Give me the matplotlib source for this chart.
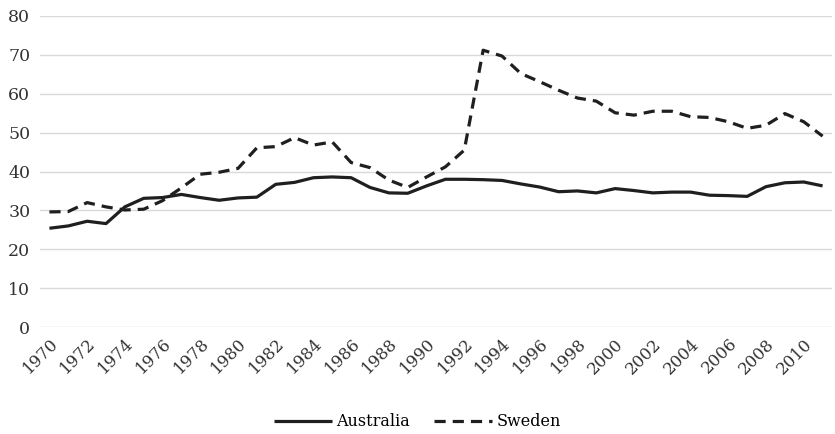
import numpy as np
import matplotlib.pyplot as plt

# Data
years = list(range(1970, 2012))
australia = [25.4, 26.0, 27.2, 26.6, 30.9, 33.1, 33.3, 34.1, 33.3, 32.6,
             33.2, 33.4, 36.7, 37.2, 38.4, 38.6, 38.4, 35.9, 34.5, 34.4,
             36.3, 38.0, 38.0, 37.9, 37.7, 36.8, 36.0, 34.8, 35.0, 34.5,
             35.6, 35.1, 34.5, 34.7, 34.7, 33.9, 33.8, 33.6, 36.1, 37.1,
             37.3, 36.3]
sweden = [29.6, 29.7, 32.0, 30.9, 30.1, 30.3, 32.5, 35.8, 39.3, 39.8,
          40.8, 46.1, 46.4, 48.7, 46.8, 47.6, 42.3, 41.0, 37.8, 35.9,
          38.6, 41.2, 45.5, 71.2, 69.7, 65.2, 63.1, 60.9, 58.9, 58.1,
          55.1, 54.5, 55.5, 55.5, 54.1, 53.9, 52.8, 51.1, 51.9, 54.9,
          52.8, 49.1]
yticks = list(range(0, 90, 10))

plt.rcParams['font.family'] = ['DejaVu Serif']
fig = plt.figure(figsize=(8.35, 4.34), dpi=100)
ax = fig.add_axes([40 / 835, 1 - 327 / 434, 792 / 835, 311 / 434])

x = np.arange(len(years))
ax.plot(x, australia, color='#1f1f1f', lw=2.3, label='Australia',
        solid_capstyle='butt')
ax.plot(x, sweden, color='#1f1f1f', lw=2.3, label='Sweden',
        linestyle=(0, (3.5, 2.2)))

ax.set_xlim(-0.5, len(years) - 0.5)
ax.set_ylim(0, 80)
ax.set_yticks(yticks)
ax.set_xticks(x[::2])
ax.set_xticklabels([str(y) for y in years[::2]])
ax.tick_params(axis='both', length=0, colors='#333333')
ax.tick_params(axis='y', labelsize=12.5, pad=7)
ax.tick_params(axis='x', labelsize=12, pad=6)
for lbl in ax.get_xticklabels():
    lbl.set_rotation(45)
    lbl.set_ha('right')
    lbl.set_va('top')
    lbl.set_rotation_mode('anchor')

ax.grid(axis='y', color='#d9d9d9', lw=1)
ax.set_axisbelow(True)
for s in ax.spines.values():
    s.set_visible(False)

fig.legend(loc='center', bbox_to_anchor=(0.5, 1 - 422 / 434), ncol=2,
           frameon=False, fontsize=11.5, handlelength=3.6, columnspacing=1.5,
           handletextpad=0.3)

fig.savefig('out.png', dpi=100)
